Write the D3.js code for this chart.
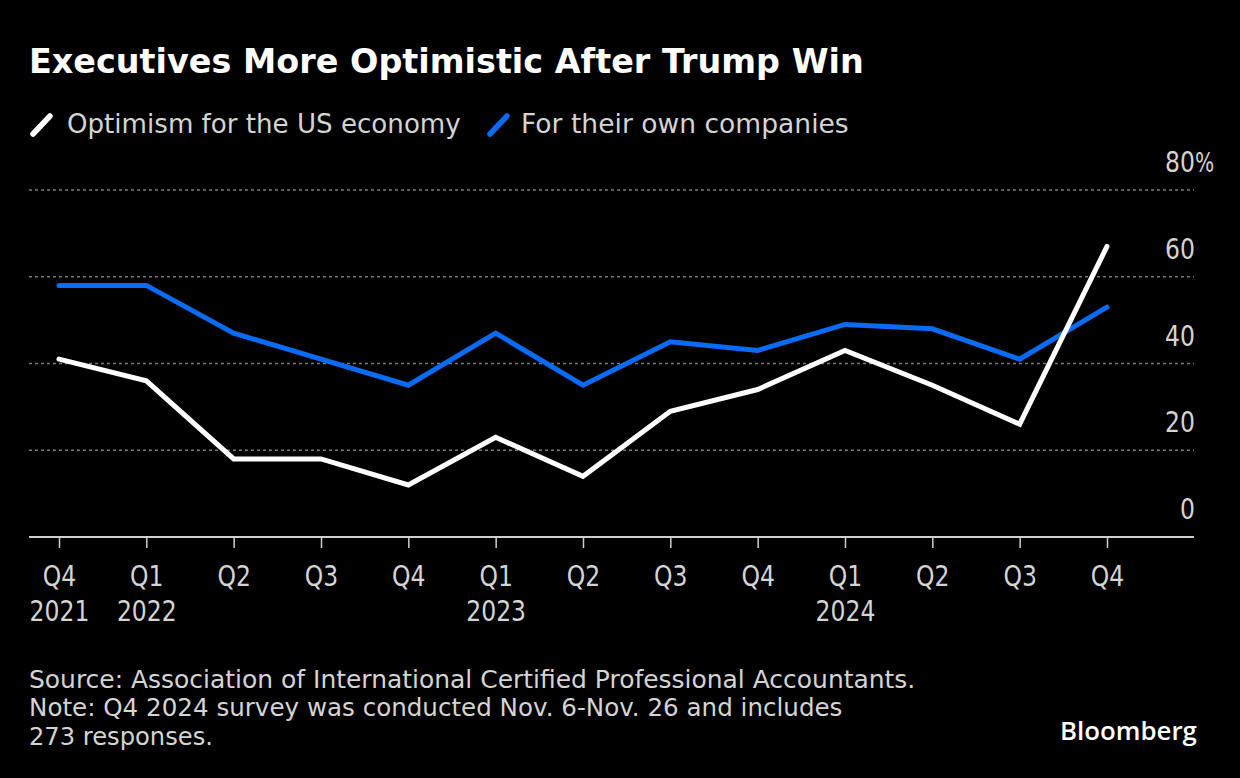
<!DOCTYPE html>
<html>
<head>
<meta charset="utf-8">
<script src="https://cdn.jsdelivr.net/npm/d3@7"></script>
<style>
  html, body { margin: 0; padding: 0; background: #000; }
  svg { display: block; }
  .sans { font-family: "DejaVu Sans", sans-serif; }
</style>
</head>
<body>
<svg id="chart" width="1240" height="778"></svg>
<script>
// ---- data ----
const periods = ["Q4 2021","Q1 2022","Q2 2022","Q3 2022","Q4 2022","Q1 2023","Q2 2023","Q3 2023","Q4 2023","Q1 2024","Q2 2024","Q3 2024","Q4 2024"];
const quarterLabels = ["Q4","Q1","Q2","Q3","Q4","Q1","Q2","Q3","Q4","Q1","Q2","Q3","Q4"];
const yearLabels = ["2021","2022","","","","2023","","","","2024","","",""];
const economy = [41, 36, 18, 18, 12, 23, 14, 29, 34, 43, 35, 26, 67];
const companies = [58, 58, 47, 41, 35, 47, 35, 45, 43, 49, 48, 41, 53];
const yTicks = [0, 20, 40, 60, 80];
const seriesNames = ["Optimism for the US economy", "For their own companies"];
const title = "Executives More Optimistic After Trump Win";
const sourceLines = [
  "Source: Association of International Certified Professional Accountants.",
  "Note: Q4 2024 survey was conducted Nov. 6-Nov. 26 and includes",
  "273 responses."
];

// ---- layout ----
const W = 1240, H = 778;
const svg = d3.select("#chart");
svg.append("rect").attr("width", W).attr("height", H).attr("fill", "#000");

const plotLeft = 29, plotRight = 1194;
const x = d3.scalePoint().domain(periods).range([59, 1107]);
const y = d3.scaleLinear().domain([0, 80]).range([537, 190]);

const white = "#ffffff", blue = "#0a6cf5", labelCol = "#d4d4d4";
const axisScaleX = 0.84;

// horizontally fit a text element to a target width, anchored at its x
function fit(sel, targetW) {
  const node = sel.node();
  const w = node.getComputedTextLength();
  const k = targetW / w;
  const x0 = +sel.attr("x") || 0;
  sel.attr("transform", `translate(${x0},0) scale(${k},1) translate(${-x0},0)`);
  return sel;
}

// title
fit(svg.append("text").attr("x", 29).attr("y", 73.5)
  .attr("font-family", "DejaVu Sans, sans-serif").attr("font-weight", "bold")
  .attr("font-size", 33).attr("fill", "#fff").text(title), 835);

// legend
const legend = svg.append("g").attr("class", "sans");
const legItems = [
  { name: seriesNames[0], color: white, sx: 33, tx: 67, w: 394 },
  { name: seriesNames[1], color: blue, sx: 490, tx: 521, w: 328 }
];
legItems.forEach(d => {
  legend.append("line").attr("x1", d.sx).attr("y1", 134).attr("x2", d.sx + 17).attr("y2", 116)
    .attr("stroke", d.color).attr("stroke-width", 5.5).attr("stroke-linecap", "round");
  fit(legend.append("text").attr("x", d.tx).attr("y", 133).attr("font-size", 26.5)
    .attr("fill", labelCol).text(d.name), d.w);
});

// gridlines
const grid = svg.append("g");
grid.selectAll("line").data(yTicks.filter(t => t > 0)).join("line")
  .attr("x1", plotLeft).attr("x2", plotRight)
  .attr("y1", d => y(d)).attr("y2", d => y(d))
  .attr("stroke", "#7a7a7a").attr("stroke-width", 1.6).attr("stroke-dasharray", "3,3");

// y axis labels (right side)
const yAxis = d3.axisRight(y).tickValues(yTicks).tickSize(0).tickFormat(d => d);
const yg = svg.append("g").attr("class", "sans").attr("transform", `translate(1195,0)`).call(yAxis);
yg.select(".domain").remove();
yg.selectAll(".tick text").attr("x", 0).attr("y", -18.5).attr("dy", null)
  .attr("text-anchor", "end").attr("font-size", 28).attr("fill", labelCol)
  .attr("font-family", null).attr("transform", `scale(${axisScaleX},1)`);
yg.selectAll(".tick").filter(d => d === 80).append("text")
  .attr("x", 0).attr("y", -18.5).attr("text-anchor", "start")
  .attr("font-size", 26).attr("fill", labelCol).attr("transform", `scale(0.78,1)`).text("%");

// x axis
const xAxis = d3.axisBottom(x).tickSize(11).tickFormat(() => "");
const xg = svg.append("g").attr("class", "sans").attr("transform", `translate(0,${y(0)})`).call(xAxis);
xg.select(".domain").remove();
xg.selectAll(".tick line").attr("stroke", "#cfcfcf").attr("stroke-width", 1.5);
xg.selectAll(".tick text").remove();
xg.selectAll(".tick").each(function(d, i) {
  const t = d3.select(this);
  t.append("text").attr("y", 49).attr("text-anchor", "middle").attr("font-size", 28)
    .attr("fill", labelCol).attr("transform", `scale(${axisScaleX},1)`).text(quarterLabels[i]);
  if (yearLabels[i]) {
    t.append("text").attr("y", 84).attr("text-anchor", "middle").attr("font-size", 28)
      .attr("fill", labelCol).attr("transform", `scale(${axisScaleX},1)`).text(yearLabels[i]);
  }
});
svg.append("line").attr("x1", plotLeft).attr("x2", plotRight)
  .attr("y1", y(0)).attr("y2", y(0)).attr("stroke", "#cfcfcf").attr("stroke-width", 2);

// lines
const line = d3.line().x((d, i) => x(periods[i])).y(d => y(d));
svg.append("path").datum(companies).attr("d", line).attr("fill", "none")
  .attr("stroke", blue).attr("stroke-width", 5).attr("stroke-linecap", "round").attr("stroke-linejoin", "miter");
svg.append("path").datum(economy).attr("d", line).attr("fill", "none")
  .attr("stroke", white).attr("stroke-width", 5).attr("stroke-linecap", "round").attr("stroke-linejoin", "miter");

// footer
const foot = svg.append("g").attr("class", "sans");
const footW = [887, 814, 184];
sourceLines.forEach((s, i) => {
  fit(foot.append("text").attr("x", 29).attr("y", 688 + i * 28.5).attr("font-size", 25.5)
    .attr("fill", labelCol).text(s), footW[i]);
});
const logo = svg.append("text").attr("x", 1060).attr("y", 740)
  .attr("font-family", "Open Sans, Liberation Sans, sans-serif").attr("font-weight", 600)
  .attr("font-size", 24.5).attr("fill", "#fff").text("Bloomberg");
fit(logo, 137);
</script>
</body>
</html>
